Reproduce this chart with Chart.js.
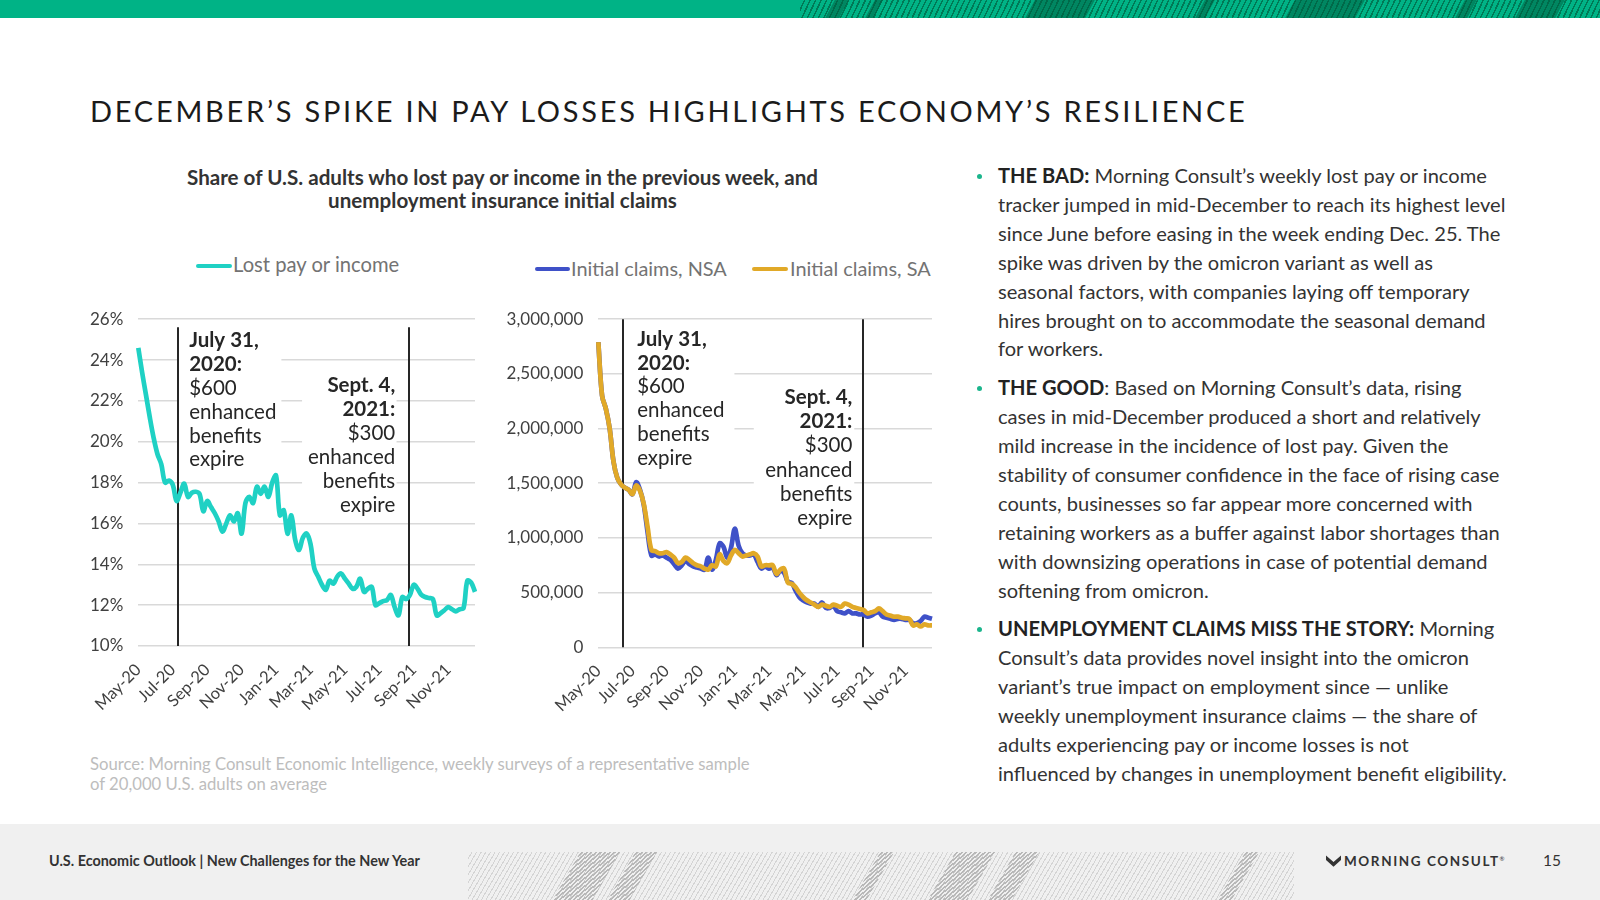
<!DOCTYPE html>
<html>
<head>
<meta charset="utf-8">
<script src="https://cdn.jsdelivr.net/npm/chart.js@4.4.1/dist/chart.umd.min.js"></script>
<style>
  html, body { margin: 0; padding: 0; background: #fff; }
  body { width: 1600px; height: 900px; position: relative; overflow: hidden; font-family: Lato, 'Noto Sans', sans-serif; color: #333; }
  .abs { position: absolute; }
  #topbar { left: 0; top: 0; width: 1600px; height: 18px; background: #00b386; overflow: hidden; }
  #topbar .hatch { position: absolute; left: 800px; top: 0; width: 800px; height: 18px;
    background: repeating-linear-gradient(115deg, transparent 0 3.5px, rgba(0, 90, 60, .65) 3.5px 5px); }
  #topbar i { position: absolute; top: -4px; height: 26px; background: rgba(0, 90, 60, .5); transform: skewX(-28deg); }
  #title { left: 90px; top: 92px; font-size: 29px; letter-spacing: 2.73px; color: #1b1b1b; white-space: nowrap; line-height: 38px; }
  #ctitle { left: 150px; width: 705px; top: 166px; text-align: center; font-weight: 700; font-size: 20.6px; line-height: 22.5px; color: #333; }
  .leg { font-size: 20.2px; color: #737373; white-space: nowrap; line-height: 20px; }
  .sw { height: 4px; border-radius: 2px; }
  .chartbox canvas { display: block; }
  #bullets { left: 998px; top: 161px; width: 580px; font-size: 20.1px; color: #333; }
  #bullets p { margin: 0 0 9.9px 0; position: relative; }
  #bullets span.l { display: block; white-space: nowrap; line-height: 28.9px; }
  #bullets p::before { content: ''; position: absolute; left: -21px; top: 12.5px; width: 5px; height: 5px; border-radius: 50%; background: #1bb58c; }
  #bullets b { color: #222; }
  #source { left: 90px; top: 754px; font-size: 16.7px; line-height: 20.4px; color: #bdbdbd; white-space: nowrap; }
  #footer { left: 0; top: 824px; width: 1600px; height: 76px; background: #f0f0f0; }
  #fhatch { left: 468px; top: 852px; width: 826px; height: 48px; overflow: hidden;
    background: repeating-linear-gradient(120deg, transparent 0 3px, #d4d4d4 3px 4px); }
  #fhatch i { position: absolute; top: -10px; height: 80px; background: repeating-linear-gradient(120deg, transparent 0 2px, #b8b8b8 2px 4px); transform: skewX(-30deg); }
  #ftext { left: 49px; top: 852px; font-size: 14.4px; font-weight: 700; color: #333; white-space: nowrap; }
  #logo { left: 1326px; top: 853px; font-size: 13.5px; font-weight: 700; letter-spacing: 1.6px; color: #333; white-space: nowrap; }
  #page { left: 1543px; top: 851px; font-size: 15.5px; color: #333; }
</style>
</head>
<body>
<div id="topbar" class="abs"><div class="hatch"></div>
  <i style="left:830px;width:14px"></i><i style="left:870px;width:8px"></i><i style="left:1030px;width:60px"></i>
  <i style="left:1200px;width:10px"></i><i style="left:1290px;width:70px"></i><i style="left:1460px;width:12px"></i><i style="left:1520px;width:40px"></i>
</div>
<div id="title" class="abs">DECEMBER’S SPIKE IN PAY LOSSES HIGHLIGHTS ECONOMY’S RESILIENCE</div>
<div id="ctitle" class="abs">Share of U.S. adults who lost pay or income in the previous week, and<br>unemployment insurance initial claims</div>

<div class="abs sw" style="left:196px;top:264px;width:36px;background:#1fd1c4"></div>
<div class="abs leg" style="left:233px;top:254px">Lost pay or income</div>
<div class="abs sw" style="left:535px;top:267px;width:35px;background:#3f51c8"></div>
<div class="abs leg" style="left:571px;top:258px;font-size:19.9px">Initial claims, NSA</div>
<div class="abs sw" style="left:752px;top:267px;width:36px;background:#e1a928"></div>
<div class="abs leg" style="left:790px;top:258px;font-size:19.9px">Initial claims, SA</div>

<div class="abs chartbox" style="left:80px;top:294.3px;width:415px;height:426px"><canvas id="lostChart" width="415" height="426"></canvas></div>
<div class="abs chartbox" style="left:480px;top:294.3px;width:472px;height:426px"><canvas id="claimsChart" width="472" height="426"></canvas></div>

<div id="source" class="abs">Source: Morning Consult Economic Intelligence, weekly surveys of a representative sample<br>of 20,000 U.S. adults on average</div>

<div id="bullets" class="abs">
  <p><span class="l"><b>THE BAD:</b> Morning Consult’s weekly lost pay or income</span>
  <span class="l">tracker jumped in mid-December to reach its highest level</span>
  <span class="l">since June before easing in the week ending Dec. 25. The</span>
  <span class="l">spike was driven by the omicron variant as well as</span>
  <span class="l">seasonal factors, with companies laying off temporary</span>
  <span class="l">hires brought on to accommodate the seasonal demand</span>
  <span class="l">for workers.</span></p>
  <p><span class="l"><b>THE GOOD</b>: Based on Morning Consult’s data, rising</span>
  <span class="l">cases in mid-December produced a short and relatively</span>
  <span class="l">mild increase in the incidence of lost pay. Given the</span>
  <span class="l">stability of consumer confidence in the face of rising case</span>
  <span class="l">counts, businesses so far appear more concerned with</span>
  <span class="l">retaining workers as a buffer against labor shortages than</span>
  <span class="l">with downsizing operations in case of potential demand</span>
  <span class="l">softening from omicron.</span></p>
  <p><span class="l"><b>UNEMPLOYMENT CLAIMS MISS THE STORY:</b> Morning</span>
  <span class="l">Consult’s data provides novel insight into the omicron</span>
  <span class="l">variant’s true impact on employment since — unlike</span>
  <span class="l">weekly unemployment insurance claims — the share of</span>
  <span class="l">adults experiencing pay or income losses is not</span>
  <span class="l">influenced by changes in unemployment benefit eligibility.</span></p>
</div>

<div id="footer" class="abs"></div>
<div id="fhatch" class="abs">
  <i style="left:95px;width:40px"></i><i style="left:150px;width:22px"></i>
  <i style="left:395px;width:14px"></i>
  <i style="left:470px;width:40px"></i><i style="left:530px;width:24px"></i>
  <i style="left:760px;width:14px"></i>
</div>
<div id="ftext" class="abs">U.S. Economic Outlook | New Challenges for the New Year</div>
<div id="logo" class="abs"><svg width="15" height="14" viewBox="0 0 16 14" style="vertical-align:-2px;margin-right:3px"><path d="M0 1 L8 8 L16 1 L16 6 L8 13 L0 6 Z" fill="#333"/></svg>MORNING CONSULT<sup style="font-size:6px;font-weight:400">®</sup></div>
<div id="page" class="abs">15</div>

<script>
// weekly points, May 2020 - Dec 2021
const tickLabels = ['May-20', 'Jul-20', 'Sep-20', 'Nov-20', 'Jan-21', 'Mar-21', 'May-21', 'Jul-21', 'Sep-21', 'Nov-21']
const LABEL_EVERY = 9

// share of adults who lost pay or income (%)
const lostPay = [
  24.6, 23.4, 22.3, 21.2, 20.2, 19.4, 18.9, 18.0, 18.1, 17.9,
  17.1, 17.5, 17.95, 17.3, 17.5, 17.55, 17.45, 16.6, 17.1, 16.8,
  16.5, 16.1, 15.6, 16.0, 16.4, 16.1, 16.5, 15.5, 17.0, 17.3,
  17.0, 17.8, 17.45, 17.8, 17.3, 18.0, 18.35, 16.4, 16.65, 15.5,
  16.4, 15.2, 14.7, 15.3, 15.5, 15.0, 13.8, 13.4, 13.0, 12.75,
  13.2, 13.05, 13.4, 13.55, 13.3, 13.05, 12.8, 12.9, 13.3, 12.65,
  12.8, 12.9, 12.0, 12.1, 12.2, 12.25, 12.5, 11.9, 11.5, 12.4,
  12.3, 12.5, 13.0, 12.8, 12.5, 12.4, 12.35, 12.3, 11.5, 11.6,
  11.75, 11.9, 11.8, 11.7, 11.8, 11.85, 13.2, 13.1, 12.65
]

// initial claims, not seasonally adjusted
const claimsNSA = [
  2790000, 2300000, 2180000, 2000000, 1700000, 1550000, 1490000, 1460000, 1440000, 1400000,
  1510000, 1440000, 1300000, 1050000, 840000, 850000, 830000, 840000, 820000, 800000,
  760000, 720000, 750000, 790000, 760000, 740000, 730000, 720000, 710000, 820000,
  710000, 800000, 950000, 920000, 820000, 910000, 1085000, 930000, 860000, 840000,
  840000, 850000, 780000, 720000, 740000, 720000, 730000, 660000, 700000, 680000,
  600000, 590000, 520000, 460000, 430000, 410000, 400000, 400000, 370000, 410000,
  360000, 360000, 380000, 330000, 320000, 310000, 330000, 310000, 310000, 300000,
  300000, 280000, 290000, 310000, 320000, 280000, 270000, 260000, 250000, 260000,
  260000, 250000, 250000, 220000, 220000, 240000, 280000, 270000, 260000
]

// initial claims, seasonally adjusted
const claimsSA = [
  2790000, 2300000, 2180000, 2000000, 1700000, 1550000, 1490000, 1460000, 1440000, 1400000,
  1480000, 1430000, 1310000, 1100000, 890000, 880000, 860000, 860000, 870000, 850000,
  820000, 770000, 780000, 820000, 800000, 770000, 750000, 740000, 720000, 710000,
  750000, 740000, 850000, 790000, 770000, 840000, 890000, 860000, 830000, 840000,
  850000, 860000, 830000, 740000, 750000, 750000, 750000, 670000, 710000, 720000,
  590000, 580000, 550000, 500000, 460000, 430000, 410000, 390000, 370000, 390000,
  380000, 370000, 390000, 380000, 370000, 400000, 390000, 370000, 360000, 350000,
  340000, 310000, 320000, 330000, 355000, 330000, 300000, 290000, 280000, 280000,
  270000, 265000, 260000, 200000, 210000, 190000, 210000, 200000, 200000
]

const weekLabels = lostPay.map((_, i) => (i % LABEL_EVERY === 0 ? tickLabels[i / LABEL_EVERY] : ''))

const TEXT = '#404040'
const GRID = '#d9d9d9'
Chart.defaults.font.family = 'Lato, "Noto Sans", sans-serif'
Chart.defaults.color = TEXT

// expiry markers: vertical rule, white label box and the note text
const markers = {
  id: 'markers',
  beforeDatasetsDraw (chart, args, opts) {
    const { ctx, chartArea } = chart
    const x = chart.scales.x
    const y = chart.scales.y
    ctx.save()
    for (const m of opts.items) {
      const bx0 = x.getPixelForValue(m.box[0])
      const bx1 = x.getPixelForValue(m.box[1])
      const by0 = y.getPixelForValue(m.box[2])
      const by1 = y.getPixelForValue(m.box[3])
      ctx.fillStyle = '#fff'
      ctx.fillRect(bx0, by0, bx1 - bx0, by1 - by0)

      const lx = Math.round(x.getPixelForValue(m.at))
      ctx.strokeStyle = '#262626'
      ctx.lineWidth = 2
      ctx.beginPath()
      ctx.moveTo(lx, y.getPixelForValue(m.top))
      ctx.lineTo(lx, chartArea.bottom)
      ctx.stroke()

      ctx.fillStyle = '#262626'
      ctx.textAlign = m.align
      ctx.textBaseline = 'middle'
      const tx = x.getPixelForValue(m.textX)
      let ty = y.getPixelForValue(m.textY)
      m.lines.forEach((t, i) => {
        ctx.font = (i < 2 ? '700 ' : '400 ') + '20.5px Lato, "Noto Sans", sans-serif'
        ctx.fillText(t, tx, ty)
        ty += m.step
      })
    }
    ctx.restore()
  }
}

function xAxis (height) {
  return {
    grid: { display: false },
    border: { display: false },
    afterFit: (s) => { s.height = height },
    ticks: {
      autoSkip: false,
      maxRotation: 45,
      minRotation: 45,
      padding: 6,
      font: { size: 16.5 },
      color: TEXT,
      callback: function (v) { return this.getLabelForValue(v) }
    }
  }
}

new Chart(document.getElementById('lostChart'), {
  type: 'line',
  data: {
    labels: weekLabels,
    datasets: [{
      label: 'Lost pay or income',
      data: lostPay,
      borderColor: '#1fd1c4',
      borderWidth: 4.7,
      pointRadius: 0,
      tension: 0.35
    }]
  },
  options: {
    responsive: false,
    animation: false,
    layout: { padding: { top: 0, right: 13.3, left: 0, bottom: 0 } },
    plugins: {
      legend: { display: false },
      tooltip: { enabled: false },
      markers: {
        items: [
          { at: 10.3, top: 25.6, box: [10.4, 37.4, 25.6, 18.6], textX: 13.3, textY: 24.94, step: 23.8, align: 'left',
            lines: ['July 31,', '2020:', '$600', 'enhanced', 'benefits', 'expire'] },
          { at: 70.66, top: 25.6, box: [42.8, 67.5, 23.5, 16.3], textX: 67.15, textY: 22.75, step: 24, align: 'right',
            lines: ['Sept. 4,', '2021:', '$300', 'enhanced', 'benefits', 'expire'] }
        ]
      }
    },
    scales: {
      x: xAxis(74),
      y: {
        min: 10,
        max: 26,
        afterFit: (s) => { s.width = 58.3 },
        border: { display: false },
        grid: { color: GRID, lineWidth: 1.6, drawTicks: false },
        ticks: { stepSize: 2, padding: 15, font: { size: 17 }, color: TEXT, callback: (v) => v + '%' }
      }
    }
  },
  plugins: [markers]
})

new Chart(document.getElementById('claimsChart'), {
  type: 'line',
  data: {
    labels: weekLabels,
    datasets: [
      {
        label: 'Initial claims, NSA',
        data: claimsNSA,
        borderColor: '#3f51c8',
        borderWidth: 4.7,
        pointRadius: 0,
        tension: 0.35,
        order: 1
      },
      {
        label: 'Initial claims, SA',
        data: claimsSA,
        borderColor: '#e1a928',
        borderWidth: 4.7,
        pointRadius: 0,
        tension: 0.35,
        order: 0
      }
    ]
  },
  options: {
    responsive: false,
    animation: false,
    layout: { padding: { top: 0, right: 11, left: 0, bottom: 0 } },
    plugins: {
      legend: { display: false },
      tooltip: { enabled: false },
      markers: {
        items: [
          { at: 6.5, top: 3000000, box: [6.6, 35.9, 2966000, 1617000], textX: 10.25, textY: 2818000, step: 23.8, align: 'left',
            lines: ['July 31,', '2020:', '$600', 'enhanced', 'benefits', 'expire'] },
          { at: 69.85, top: 3000000, box: [41.0, 67.5, 2392000, 1070000], textX: 67.0, textY: 2285000, step: 24.2, align: 'right',
            lines: ['Sept. 4,', '2021:', '$300', 'enhanced', 'benefits', 'expire'] }
        ]
      }
    },
    scales: {
      x: xAxis(72.7),
      y: {
        min: 0,
        max: 3000000,
        afterFit: (s) => { s.width = 118.3 },
        border: { display: false },
        grid: { color: GRID, lineWidth: 1.6, drawTicks: false },
        ticks: { stepSize: 500000, padding: 15, font: { size: 17 }, color: TEXT, callback: (v) => v.toLocaleString('en-US') }
      }
    }
  },
  plugins: [markers]
})
</script>
</body>
</html>
